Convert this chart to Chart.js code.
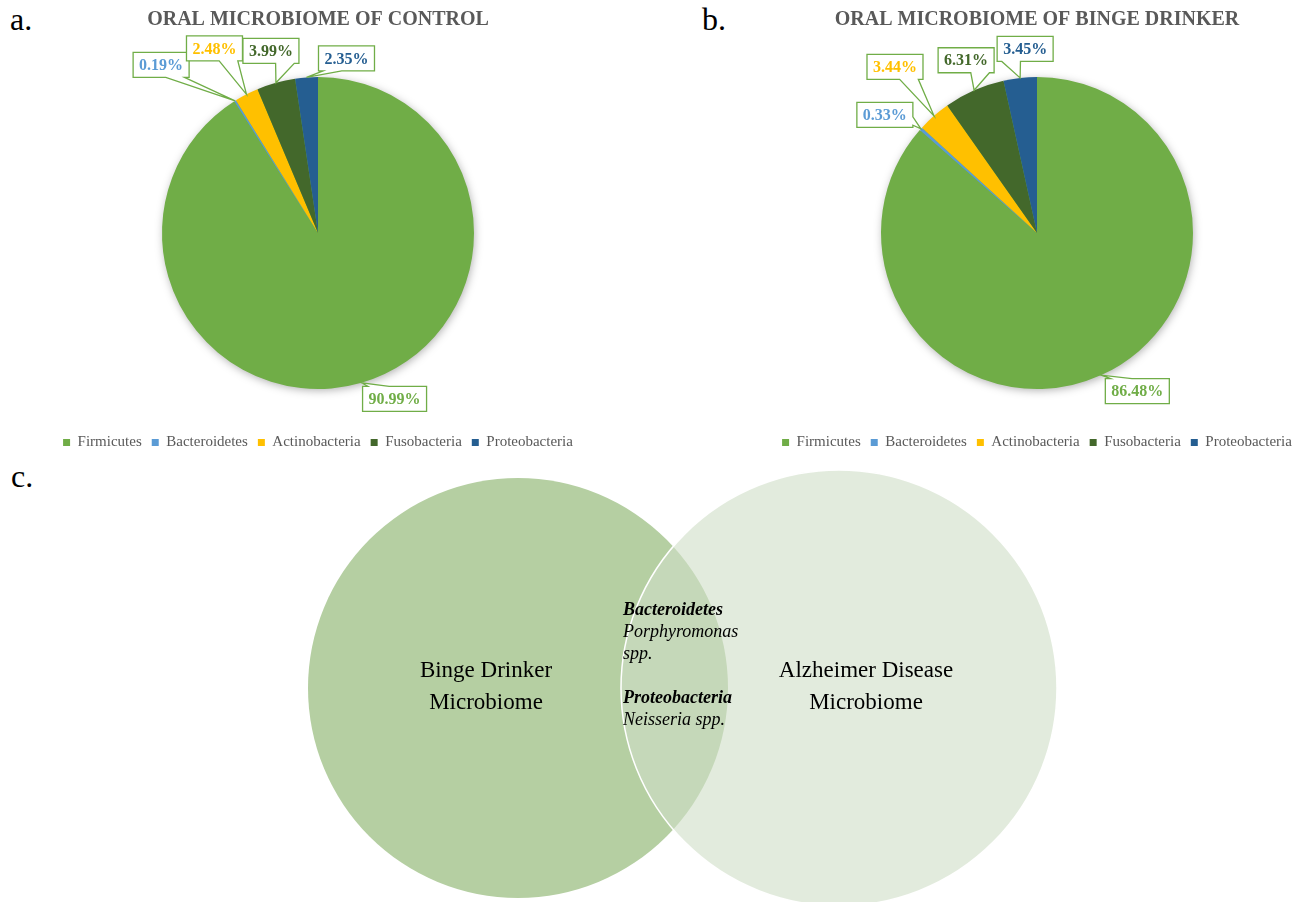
<!DOCTYPE html>
<html>
<head>
<meta charset="utf-8">
<script src="https://cdn.jsdelivr.net/npm/chart.js@4/dist/chart.umd.min.js"></script>
<style>
  body { margin: 0; background: #fff; width: 1309px; height: 902px; overflow: hidden; position: relative; font-family: "Liberation Serif", "Times New Roman", serif; }
  canvas { position: absolute; }
  .panel { position: absolute; font-size: 32px; line-height: 32px; color: #000; }
  #pieA { left: 0; top: 0; }
  #pieB { left: 757px; top: 0; }
  #venn { left: 0; top: 470px; }
</style>
</head>
<body>
<div class="panel" style="left:10px;top:3px">a.</div>
<div class="panel" style="left:702px;top:3px">b.</div>
<div class="panel" style="left:11px;top:460px">c.</div>
<canvas id="pieA" width="636" height="460"></canvas>
<canvas id="pieB" width="560" height="460"></canvas>
<canvas id="venn" width="1309" height="432"></canvas>
<script>
// data
const phyla = ['Firmicutes', 'Bacteroidetes', 'Actinobacteria', 'Fusobacteria', 'Proteobacteria'];
const controlPct = [90.99, 0.19, 2.48, 3.99, 2.35];
const bingePct = [86.48, 0.33, 3.44, 6.31, 3.45];
const phylumColors = ['#70AD47', '#5B9BD5', '#FFC000', '#43682B', '#255E91'];

const vennSets = ['Binge Drinker Microbiome', 'Alzheimer Disease Microbiome'];
const vennX = [0, 1.5];
const vennY = [0, 0];
const sharedTaxa = [['Bacteroidetes', 'Porphyromonas spp.'], ['Proteobacteria', 'Neisseria spp.']];

// layout: where each callout box sits relative to its slice edge (px)
const calloutOffsetA = [[33, 16], [-74, -36], [-32, -46], [-5, -32], [40, -19]];
const calloutOffsetB = [[36, 16], [-36, -14], [-39, -49], [-8, -30], [5, -29]];

const SERIF = "'Liberation Serif', 'Times New Roman', serif";
const GRAY = '#595959';

const pieShadow = {
  id: 'pieShadow',
  beforeDatasetsDraw(chart) {
    const arc = chart.getDatasetMeta(0).data[0];
    if (!arc) return;
    const p = arc.getProps(['x', 'y', 'outerRadius'], true);
    const ctx = chart.ctx;
    ctx.save();
    ctx.shadowColor = 'rgba(0,0,0,0.35)';
    ctx.shadowBlur = 10;
    ctx.shadowOffsetX = 1;
    ctx.shadowOffsetY = 2;
    ctx.fillStyle = '#70AD47';
    ctx.beginPath();
    ctx.arc(p.x, p.y, p.outerRadius - 1, 0, Math.PI * 2);
    ctx.fill();
    ctx.restore();
  }
};

// rectangle callout with a wedge pointing at (tx, ty)
function calloutPath(ctx, bx, by, w, h, tx, ty) {
  const l = bx - w / 2, r = bx + w / 2, t = by - h / 2, b = by + h / 2;
  const dx = tx - bx, dy = ty - by;
  ctx.beginPath();
  ctx.moveTo(l, t);
  if (Math.abs(dy) * w >= Math.abs(dx) * h) {
    const x1 = dx < 0 ? l + w / 12 : l + 7 * w / 12;
    const x2 = dx < 0 ? l + 5 * w / 12 : l + 11 * w / 12;
    if (dy < 0) {
      ctx.lineTo(x1, t); ctx.lineTo(tx, ty); ctx.lineTo(x2, t);
      ctx.lineTo(r, t); ctx.lineTo(r, b); ctx.lineTo(l, b);
    } else {
      ctx.lineTo(r, t); ctx.lineTo(r, b);
      ctx.lineTo(x2, b); ctx.lineTo(tx, ty); ctx.lineTo(x1, b);
      ctx.lineTo(l, b);
    }
  } else {
    const y1 = dy < 0 ? t + h / 12 : t + 7 * h / 12;
    const y2 = dy < 0 ? t + 5 * h / 12 : t + 11 * h / 12;
    if (dx > 0) {
      ctx.lineTo(r, t); ctx.lineTo(r, y1); ctx.lineTo(tx, ty); ctx.lineTo(r, y2);
      ctx.lineTo(r, b); ctx.lineTo(l, b);
    } else {
      ctx.lineTo(r, t); ctx.lineTo(r, b); ctx.lineTo(l, b);
      ctx.lineTo(l, y2); ctx.lineTo(tx, ty); ctx.lineTo(l, y1);
    }
  }
  ctx.closePath();
}

function makeCallouts(offsets) {
  return {
    id: 'callouts',
    afterDatasetsDraw(chart) {
      const ctx = chart.ctx;
      const values = chart.data.datasets[0].data;
      const colors = chart.data.datasets[0].backgroundColor;
      chart.getDatasetMeta(0).data.forEach((arc, i) => {
        const p = arc.getProps(['x', 'y', 'startAngle', 'endAngle', 'outerRadius'], true);
        const mid = (p.startAngle + p.endAngle) / 2;
        const tx = p.x + Math.cos(mid) * p.outerRadius;
        const ty = p.y + Math.sin(mid) * p.outerRadius;
        const bx = tx + offsets[i][0];
        const by = ty + offsets[i][1];
        const text = values[i].toFixed(2) + '%';
        ctx.save();
        ctx.font = 'bold 16px ' + SERIF;
        const w = ctx.measureText(text).width + 12;
        const h = 25;
        calloutPath(ctx, bx, by, w, h, tx, ty);
        ctx.fillStyle = '#fff';
        ctx.fill();
        ctx.lineWidth = 1.3;
        ctx.strokeStyle = '#70AD47';
        ctx.stroke();
        ctx.fillStyle = colors[i];
        ctx.textAlign = 'center';
        ctx.textBaseline = 'middle';
        ctx.fillText(text, bx, by + 1);
        ctx.restore();
      });
    }
  };
}

function makePie(id, title, values, offsets) {
  return new Chart(document.getElementById(id), {
    type: 'pie',
    data: {
      labels: phyla,
      datasets: [{
        data: values,
        backgroundColor: phylumColors,
        borderWidth: 0
      }]
    },
    options: {
      responsive: false,
      animation: false,
      events: [],
      radius: 156,
      layout: { padding: 0 },
      plugins: {
        title: {
          display: true,
          text: title,
          color: GRAY,
          font: { family: SERIF, size: 20, weight: 'bold', lineHeight: 1.2 },
          padding: { top: 8, bottom: 9 }
        },
        legend: {
          position: 'bottom',
          labels: {
            boxWidth: 7,
            boxHeight: 7,
            padding: 10,
            color: GRAY,
            font: { family: SERIF, size: 15 }
          }
        },
        tooltip: { enabled: false }
      }
    },
    plugins: [pieShadow, makeCallouts(offsets)]
  });
}

makePie('pieA', 'ORAL MICROBIOME OF CONTROL', controlPct, calloutOffsetA);
makePie('pieB', 'ORAL MICROBIOME OF BINGE DRINKER', bingePct, calloutOffsetB);

// bubble controller that does not shrink the chart area for its big circles
const BubbleBase = Chart.BubbleController || Chart.controllers.bubble;
class VennController extends BubbleBase {
  getMaxOverflow() { return 0; }
}
VennController.id = 'venn';
VennController.defaults = BubbleBase.defaults;
VennController.overrides = BubbleBase.overrides;
Chart.register(VennController);

// venn: text drawn relative to the circle centres
function splitLast(s) {
  const k = s.lastIndexOf(' ');
  return [s.slice(0, k), s.slice(k + 1)];
}

function wrap(ctx, text, maxW) {
  const words = text.split(' ');
  const lines = [];
  let cur = '';
  words.forEach(wd => {
    const test = cur ? cur + ' ' + wd : wd;
    if (cur && ctx.measureText(test).width > maxW) { lines.push(cur); cur = wd; }
    else cur = test;
  });
  if (cur) lines.push(cur);
  return lines;
}

const vennText = {
  id: 'vennText',
  afterDatasetsDraw(chart) {
    const ctx = chart.ctx;
    const pts = chart.getDatasetMeta(0).data;
    const left = pts[0], right = pts[1];
    ctx.save();
    ctx.fillStyle = '#000';
    ctx.textAlign = 'center';
    ctx.textBaseline = 'alphabetic';
    ctx.font = '23px ' + SERIF;
    const nameShift = [-32, 27];
    [left, right].forEach((pt, i) => {
      const lines = splitLast(vennSets[i]);
      ctx.fillText(lines[0], pt.x + nameShift[i], pt.y - 11);
      ctx.fillText(lines[1], pt.x + nameShift[i], pt.y + 21);
    });
    ctx.textAlign = 'left';
    const x0 = left.x + 105;
    let y = left.y - 73;
    sharedTaxa.forEach(taxon => {
      ctx.font = 'italic bold 18px ' + SERIF;
      ctx.fillText(taxon[0], x0, y);
      y += 22;
      ctx.font = 'italic 18px ' + SERIF;
      wrap(ctx, taxon[1], 118).forEach(line => {
        ctx.fillText(line, x0, y);
        y += 22;
      });
      y += 22;
    });
    ctx.restore();
  }
};

new Chart(document.getElementById('venn'), {
  type: 'venn',
  data: {
    datasets: [{
      data: vennX.map((x, i) => ({ x: x, y: vennY[i], r: i === 0 ? 210 : 218 })),
      backgroundColor: ['#B5CFA2', 'rgba(207,222,199,0.61)'],
      borderColor: ['rgba(0,0,0,0)', '#ffffff'],
      borderWidth: [0, 1.5],
      clip: false
    }]
  },
  options: {
    responsive: false,
    animation: false,
    events: [],
    layout: { padding: 0 },
    scales: {
      x: { type: 'linear', display: false, min: -2.4206, max: 3.6963 },
      y: { type: 'linear', display: false, min: -1.0, max: 1.0187 }
    },
    plugins: { legend: { display: false }, tooltip: { enabled: false } }
  },
  plugins: [vennText]
});
</script>
</body>
</html>
